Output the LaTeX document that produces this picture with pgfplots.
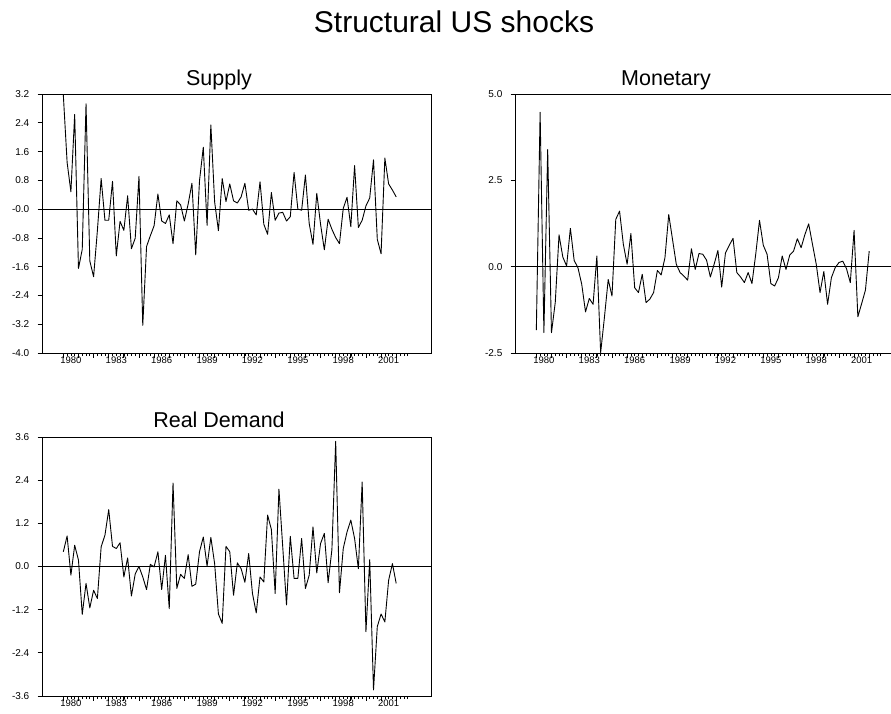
\documentclass[border=0pt]{standalone}
\usepackage{fontspec}
\setmainfont{Liberation Sans}
\usepackage{pgfplots}
\usepackage{pgfplotstable}
\pgfplotsset{compat=1.18}

\pgfplotstableread{
date s m d
1980.00 3.17 -1.84 0.41
1980.25 1.30 4.47 0.85
1980.50 0.48 -1.91 -0.24
1980.75 2.63 3.39 0.59
1981.00 -1.65 -1.91 0.18
1981.25 -1.12 -1.04 -1.33
1981.50 2.93 0.92 -0.47
1981.75 -1.44 0.28 -1.15
1982.00 -1.88 0.02 -0.66
1982.25 -0.60 1.11 -0.89
1982.50 0.85 0.18 0.55
1982.75 -0.31 -0.03 0.87
1983.00 -0.31 -0.51 1.58
1983.25 0.77 -1.31 0.56
1983.50 -1.30 -0.92 0.50
1983.75 -0.34 -1.09 0.66
1984.00 -0.59 0.31 -0.29
1984.25 0.37 -2.49 0.24
1984.50 -1.10 -1.47 -0.82
1984.75 -0.81 -0.37 -0.21
1985.00 0.91 -0.85 0.00
1985.25 -3.23 1.37 -0.29
1985.50 -1.04 1.61 -0.64
1985.75 -0.74 0.65 0.06
1986.00 -0.46 0.07 -0.01
1986.25 0.42 0.96 0.41
1986.50 -0.33 -0.61 -0.64
1986.75 -0.40 -0.75 0.31
1987.00 -0.16 -0.22 -1.17
1987.25 -0.96 -1.04 2.32
1987.50 0.23 -0.94 -0.61
1987.75 0.12 -0.75 -0.22
1988.00 -0.33 -0.11 -0.33
1988.25 0.14 -0.24 0.33
1988.50 0.72 0.26 -0.55
1988.75 -1.27 1.51 -0.49
1989.00 0.79 0.79 0.41
1989.25 1.72 0.07 0.82
1989.50 -0.45 -0.17 0.01
1989.75 2.34 -0.27 0.81
1990.00 0.20 -0.39 0.08
1990.25 -0.60 0.52 -1.32
1990.50 0.85 -0.08 -1.58
1990.75 0.21 0.38 0.56
1991.00 0.70 0.36 0.41
1991.25 0.23 0.19 -0.80
1991.50 0.17 -0.30 0.10
1991.75 0.34 0.07 -0.06
1992.00 0.72 0.47 -0.44
1992.25 -0.03 -0.59 0.36
1992.50 0.00 0.40 -0.75
1992.75 -0.16 0.62 -1.29
1993.00 0.76 0.82 -0.29
1993.25 -0.42 -0.17 -0.43
1993.50 -0.70 -0.30 1.43
1993.75 0.46 -0.46 1.03
1994.00 -0.31 -0.17 -0.75
1994.25 -0.11 -0.49 2.15
1994.50 -0.09 0.36 0.55
1994.75 -0.33 1.34 -1.07
1995.00 -0.21 0.62 0.84
1995.25 1.02 0.36 -0.33
1995.50 0.00 -0.49 -0.33
1995.75 -0.03 -0.56 0.78
1996.00 0.95 -0.32 -0.61
1996.25 -0.40 0.31 -0.24
1996.50 -0.98 -0.08 1.10
1996.75 0.44 0.34 -0.18
1997.00 -0.42 0.45 0.64
1997.25 -1.13 0.81 0.92
1997.50 -0.28 0.55 -0.45
1997.75 -0.56 0.93 0.47
1998.00 -0.79 1.24 3.48
1998.25 -0.96 0.65 -0.73
1998.50 0.02 0.07 0.50
1998.75 0.33 -0.75 0.96
1999.00 -0.49 -0.14 1.29
1999.25 1.21 -1.09 0.78
1999.50 -0.51 -0.32 -0.06
1999.75 -0.31 -0.03 2.35
2000.00 0.09 0.12 -1.81
2000.25 0.31 0.16 0.19
2000.50 1.37 -0.06 -3.43
2000.75 -0.84 -0.46 -1.67
2001.00 -1.24 1.05 -1.32
2001.25 1.42 -1.45 -1.54
2001.50 0.70 -1.07 -0.38
2001.75 0.53 -0.68 0.08
2002.00 0.34 0.45 -0.47
}\shocks

\pgfplotsset{
  panel/.style={
    scale only axis,
    width=389pt, height=259pt,
    xmin=1978.59, xmax=2004.30,
    axis line style={line width=0.9pt},
    every tick/.style={black, line width=0.8pt},
    every minor tick/.style={black, line width=0.7pt},
    tick align=outside,
    xtick pos=bottom, ytick pos=left,
    xtick={1980,...,2002},
    xticklabels={,,,,,,,,,,,,,,,,,,,,,,},
    minor xtick={1980.25,1980.5,...,2002.75},
    major tick length=4.5pt, minor tick length=3pt,
    extra x ticks={1980.5,1983.5,1986.5,1989.5,1992.5,1995.5,1998.5,2001.5},
    extra x tick labels={1980,1983,1986,1989,1992,1995,1998,2001},
    extra x tick style={major tick length=0pt, tick style={draw=none}},
    xticklabel style={font=\fontsize{9.5}{11}\selectfont, inner sep=0pt, anchor=north, yshift=-3.5pt},
    yticklabel style={font=\fontsize{10}{11}\selectfont, inner sep=0pt, anchor=east, xshift=-8pt},
    /pgf/number format/assume math mode=true,
    clip=true,
  },
  dataline/.style={black, line width=0.9pt, line join=round},
}

\begin{document}
\begin{tikzpicture}
\useasboundingbox (0pt,0pt) rectangle (891pt,-713pt);

\node[anchor=base, font=\fontsize{30}{36}\selectfont] at (454pt,-32pt) {Structural US shocks};

% Supply
\begin{axis}[panel, at={(42pt,-353pt)}, anchor=south west,
  ymin=-4, ymax=3.2,
  ytick={-4,-3.2,-2.4,-1.6,-0.8,0,0.8,1.6,2.4,3.2},
  yticklabels={-4.0,-3.2,-2.4,-1.6,-0.8,-0.0,0.8,1.6,2.4,3.2}]
  \draw[black, line width=0.9pt] (axis cs:1978.59,0) -- (axis cs:2004.30,0);
  \addplot[dataline] table[x=date, y=s] {\shocks};
\end{axis}
\node[anchor=base, font=\fontsize{21.5}{26}\selectfont] at (219pt,-85pt) {Supply};

% Monetary
\begin{axis}[panel, at={(515pt,-353pt)}, anchor=south west,
  ymin=-2.5, ymax=5,
  ytick={-2.5,0,2.5,5},
  yticklabels={-2.5,0.0,2.5,5.0}]
  \draw[black, line width=0.9pt] (axis cs:1978.59,0) -- (axis cs:2004.30,0);
  \addplot[dataline] table[x=date, y=m] {\shocks};
\end{axis}
\node[anchor=base, font=\fontsize{21.5}{26}\selectfont] at (666pt,-85pt) {Monetary};

% Real Demand
\begin{axis}[panel, at={(42pt,-696pt)}, anchor=south west,
  ymin=-3.6, ymax=3.6,
  ytick={-3.6,-2.4,-1.2,0,1.2,2.4,3.6},
  yticklabels={-3.6,-2.4,-1.2,0.0,1.2,2.4,3.6}]
  \draw[black, line width=0.9pt] (axis cs:1978.59,0) -- (axis cs:2004.30,0);
  \addplot[dataline] table[x=date, y=d] {\shocks};
\end{axis}
\node[anchor=base, font=\fontsize{21.5}{26}\selectfont] at (219pt,-427pt) {Real Demand};
\end{tikzpicture}
\end{document}
